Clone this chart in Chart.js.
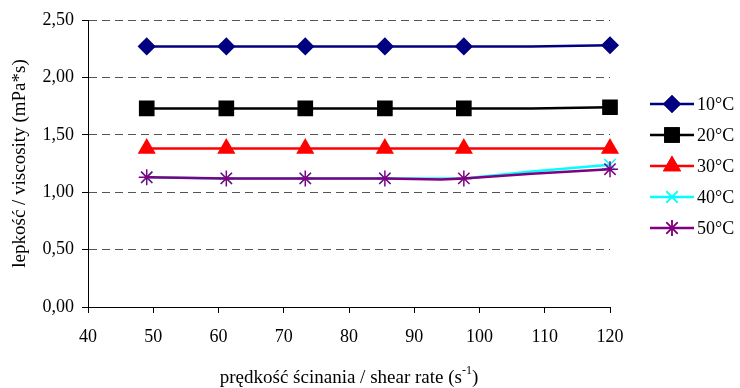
<!DOCTYPE html>
<html>
<head>
<meta charset="utf-8">
<script src="https://cdn.jsdelivr.net/npm/chart.js@4"></script>
<style>
  html, body { margin: 0; padding: 0; background: #fff; }
  #wrap { width: 740px; height: 388px; }
</style>
</head>
<body>
<div id="wrap"><canvas id="chart" width="740" height="388"></canvas></div>
<script>
// ── Data ──
const shearRate = [49, 61.2, 73.3, 85.5, 94.1, 97.6, 108, 120];
const visc10 = [2.27, 2.27, 2.27, 2.27, 2.27, 2.27, 2.27, 2.28];
const visc20 = [1.73, 1.73, 1.73, 1.73, 1.73, 1.73, 1.73, 1.74];
const visc30 = [1.38, 1.38, 1.38, 1.38, 1.38, 1.38, 1.38, 1.38];
const visc40 = [1.13, 1.12, 1.12, 1.12, 1.12, 1.12, 1.18, 1.24];
const visc50 = [1.13, 1.12, 1.12, 1.12, 1.11, 1.12, 1.16, 1.20];
const seriesLabels = ['10°C', '20°C', '30°C', '40°C', '50°C'];
// which points carry a marker (others are plain line bends)
const marked   = [1, 1, 1, 1, 0, 1, 0, 1];
const marked40 = [1, 1, 1, 1, 0, 0, 0, 1];
const yTicks = [0, 0.5, 1, 1.5, 2, 2.5];

const FONT = '"Liberation Serif", "Times New Roman", serif';

const toXY = vals => vals.map((v, i) => ({ x: shearRate[i], y: v }));
const radii = (mask, r) => mask.map(m => m ? r : 0);

const styles = [
  { color: '#000080', point: 'rectRot',  r: 8,  fill: '#000080', mask: marked },
  { color: '#000000', point: 'rect',     r: 10, fill: '#000000', mask: marked },
  { color: '#FF0000', point: 'triangle', r: 9,  fill: '#FF0000', mask: marked },
  { color: '#00FFFF', point: 'crossRot', r: 8,  fill: '#00FFFF', mask: marked40 },
  { color: '#800080', point: 'star',     r: 8,  fill: '#800080', mask: marked }
];
const values = [visc10, visc20, visc30, visc40, visc50];

const datasets = values.map((v, i) => ({
  label: seriesLabels[i],
  data: toXY(v),
  borderColor: styles[i].color,
  backgroundColor: styles[i].fill,
  borderWidth: 2.5,
  pointStyle: styles[i].point,
  pointRadius: radii(styles[i].mask, styles[i].r),
  pointHoverRadius: radii(styles[i].mask, styles[i].r),
  pointBorderColor: styles[i].color,
  pointBackgroundColor: styles[i].fill,
  pointBorderWidth: 1.5,
  tension: 0,
  clip: false,
  order: 5 - i
}));

// legend at right: line + marker + label
const sideLegend = {
  id: 'sideLegend',
  afterDraw(chart) {
    const ctx = chart.ctx;
    ctx.save();
    styles.forEach((s, i) => {
      const y = 104 + i * 31;
      ctx.strokeStyle = s.color;
      ctx.lineWidth = 2.5;
      ctx.beginPath();
      ctx.moveTo(650, y);
      ctx.lineTo(694, y);
      ctx.stroke();
      ctx.lineWidth = 1.5;
      Chart.helpers.drawPoint(ctx, {
        pointStyle: s.point, radius: s.r, borderWidth: 1.5, rotation: 0
      }, 672, y);
      ctx.fillStyle = s.fill;
      ctx.strokeStyle = s.color;
      ctx.fill();
      ctx.stroke();
      ctx.fillStyle = '#000';
      ctx.font = '18px ' + FONT;
      ctx.textBaseline = 'middle';
      ctx.textAlign = 'left';
      ctx.fillText(seriesLabels[i], 697, y + 1);
    });
    ctx.restore();
  }
};

// x title with superscript
const xTitle = {
  id: 'xTitle',
  afterDraw(chart) {
    const ctx = chart.ctx;
    const a = chart.chartArea;
    const main = 'prędkość ścinania / shear rate (s';
    const sup = '-1';
    const tail = ')';
    ctx.save();
    ctx.fillStyle = '#000';
    ctx.textBaseline = 'alphabetic';
    ctx.textAlign = 'left';
    ctx.font = '19px ' + FONT;
    const w1 = ctx.measureText(main).width;
    const w3 = ctx.measureText(tail).width;
    ctx.font = '12px ' + FONT;
    const w2 = ctx.measureText(sup).width;
    let x = (a.left + a.right) / 2 - (w1 + w2 + w3) / 2;
    const y = 383;
    ctx.font = '19px ' + FONT;
    ctx.fillText(main, x, y);
    x += w1;
    ctx.font = '12px ' + FONT;
    ctx.fillText(sup, x, y - 9);
    x += w2;
    ctx.font = '19px ' + FONT;
    ctx.fillText(tail, x, y);
    ctx.restore();
  }
};

new Chart(document.getElementById('chart'), {
  type: 'line',
  data: { datasets },
  plugins: [sideLegend, xTitle],
  options: {
    responsive: false,
    animation: false,
    layout: { padding: { left: 0, right: 130, top: 20, bottom: 0 } },
    plugins: { legend: { display: false }, tooltip: { enabled: false } },
    scales: {
      x: {
        type: 'linear', min: 40, max: 120,
        afterFit: s => { s.height = 81; },
        ticks: { stepSize: 10, color: '#000', font: { family: FONT, size: 18 }, padding: 13, maxRotation: 0 },
        grid: { color: 'transparent', drawTicks: true, tickLength: 6, tickColor: '#000', tickBorderDash: [] },
        border: { color: '#000', width: 1 }
      },
      y: {
        min: 0, max: 2.5,
        afterFit: s => { s.width = 88; },
        afterBuildTicks: s => { s.ticks = yTicks.map(v => ({ value: v })); },
        ticks: {
          color: '#000', font: { family: FONT, size: 18 }, padding: 8,
          callback: v => v.toFixed(2).replace('.', ',')
        },
        grid: { color: '#555', lineWidth: 1, tickLength: 6, tickColor: '#000', tickBorderDash: [] },
        border: { color: '#000', width: 1, dash: [8, 5] },
        title: {
          display: true, text: 'lepkość / viscosity (mPa*s)', color: '#000',
          font: { family: FONT, size: 19 }, padding: { top: 9, bottom: 0 }
        }
      }
    }
  }
});
</script>
</body>
</html>
